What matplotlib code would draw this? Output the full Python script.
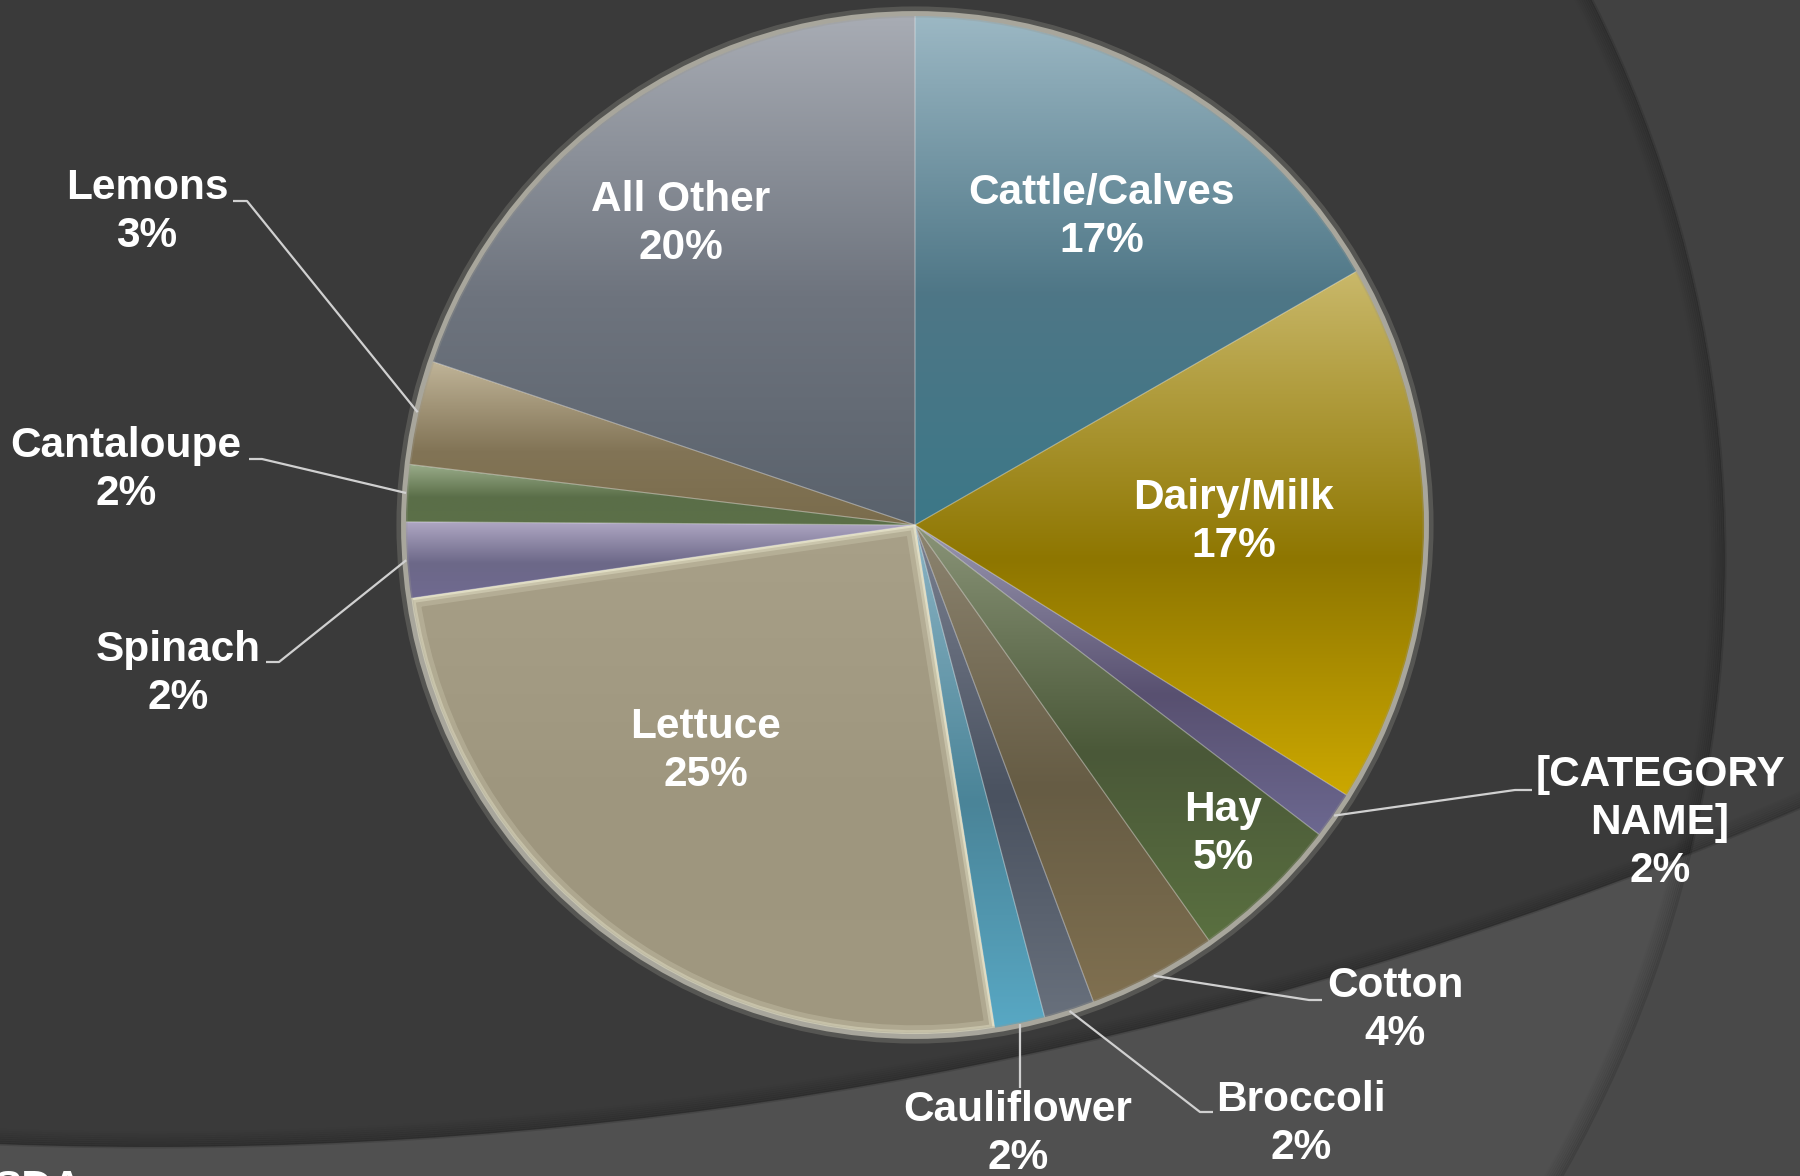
import numpy as np
import matplotlib.pyplot as plt
from matplotlib.colors import LinearSegmentedColormap
from matplotlib.patches import Circle, Wedge

W, H = 1800, 1176

# farm receipts share by commodity (percent), clockwise from 12 o'clock
categories = ["Cattle/Calves", "Dairy/Milk", "[CATEGORY NAME]", "Hay", "Cotton",
              "Broccoli", "Cauliflower", "Lettuce", "Spinach", "Cantaloupe",
              "Lemons", "All Other"]
shares = [16.7, 17.2, 1.5, 4.8, 4.1, 1.6, 1.6, 25.2, 2.4, 1.8, 3.3, 19.8]
label_names = ["Cattle/Calves", "Dairy/Milk", "[CATEGORY\nNAME]", "Hay", "Cotton",
               "Broccoli", "Cauliflower", "Lettuce", "Spinach", "Cantaloupe",
               "Lemons", "All Other"]

# vertical gradient per slice: top, middle, bottom
grad_top = ["#9cb8c4", "#c9b86a", "#9a98b0", "#8a9478", "#8c8470", "#7a8090",
            "#8cb4c4", "#a8a088", "#b0a8c4", "#9aac8a", "#c0b498", "#a8acb4"]
grad_mid = ["#4e7686", "#8e7600", "#585070", "#4a5838", "#665c44", "#4a5260",
            "#4a8498", "#9e967e", "#6c6888", "#5a6e48", "#827456", "#6e747e"]
grad_bot = ["#3c7888", "#cca800", "#6c6890", "#5a7040", "#807050", "#68707c",
            "#58a8c4", "#a09880", "#706a90", "#5c7048", "#7a6c4c", "#5a626c"]

outside = {"[CATEGORY NAME]", "Cotton", "Broccoli", "Cauliflower",
           "Spinach", "Cantaloupe", "Lemons"}

# label block centres, pixel coords measured from the top-left
label_xy = {"All Other": (681, 224), "Cattle/Calves": (1102, 217),
            "Dairy/Milk": (1234, 522), "Hay": (1223, 834), "Lettuce": (706, 751),
            "[CATEGORY NAME]": (1660, 823), "Cotton": (1395, 1010),
            "Broccoli": (1301, 1124), "Cauliflower": (1018, 1134),
            "Spinach": (178, 674), "Cantaloupe": (126, 470), "Lemons": (147, 212)}
# leader line bends for the outside labels
leader_pts = {"Lemons": [(247, 201), (233, 201)],
              "Cantaloupe": [(262, 459), (249, 459)],
              "Spinach": [(279, 662), (266, 662)],
              "[CATEGORY NAME]": [(1515, 790), (1532, 790)],
              "Cotton": [(1309, 1000), (1322, 1000)],
              "Broccoli": [(1200, 1112), (1213, 1112)],
              "Cauliflower": [(1020, 1088)]}

CX, CY, R = 915, H - 525, 510
FONT = "Liberation Sans"
FS = 30.5


def flip(p):
    return p[0], H - p[1]


fig = plt.figure(figsize=(W / 100, H / 100), dpi=100)
ax = fig.add_axes([0, 0, 1, 1])
ax.set_facecolor("#494949")

# background: two large arcs
low_arc = Circle((153, H + 3025), 4172, fc="#414141", ec="none", zorder=0)
ax.add_patch(low_arc)
rc = (480, H - 560)
ax.add_patch(Circle(rc, 1245, fc="#505050", ec="none", zorder=0.1))
main_bg = Circle(rc, 1245, fc="#3a3a3a", ec="none", zorder=0.2)
ax.add_patch(main_bg)
main_bg.set_clip_path(low_arc)
for k, a in enumerate(np.linspace(0.12, 0.0, 9)):
    ax.add_patch(Circle(rc, 1245 - 2 * k, fill=False, ec="black", lw=2.2,
                        alpha=a, zorder=0.3))
    ax.add_patch(Circle((153, H + 3025), 4172 - 2 * k, fill=False, ec="black",
                        lw=2.2, alpha=a, zorder=0.3))

wedges, _ = ax.pie(shares, radius=R, center=(CX, CY), startangle=90,
                   counterclock=False, frame=True,
                   wedgeprops=dict(linewidth=0))

grad = np.linspace(0, 1, 256).reshape(-1, 1)
for i, w in enumerate(wedges):
    w.set_facecolor(grad_mid[i])
    ext = w.get_path().get_extents()
    cmap = LinearSegmentedColormap.from_list(
        f"g{i}", [(0, grad_top[i]), (0.55, grad_mid[i]), (1, grad_bot[i])])
    im = ax.imshow(grad, cmap=cmap, extent=(ext.x0, ext.x1, ext.y0, ext.y1),
                   origin="upper", aspect="auto", interpolation="bilinear",
                   zorder=3)
    im.set_clip_path(w)
    ax.add_patch(Wedge(w.center, w.r, w.theta1, w.theta2, fill=False,
                       ec=(1, 1, 1, 0.22), lw=0.8, zorder=3.5))

# bevel highlight on the lettuce slice
lettuce = wedges[categories.index("Lettuce")]
for lw, a in [(14, 0.2), (7, 0.35), (3, 0.55)]:
    bev = Wedge(lettuce.center, lettuce.r, lettuce.theta1, lettuce.theta2,
                fill=False, ec="#f2f0d6", lw=lw, alpha=a, zorder=3.6)
    ax.add_patch(bev)
    bev.set_clip_path(lettuce)

# soft rim around the pie
ax.add_patch(Circle((CX, CY), R + 3, fill=False, ec="#9a988e", lw=8,
                    alpha=0.3, zorder=4))
ax.add_patch(Circle((CX, CY), R + 1.5, fill=False, ec="#a8a69c", lw=3.5,
                    zorder=4.1))

# labels and leader lines
for i, w in enumerate(wedges):
    name = categories[i]
    text = f"{label_names[i]}\n{round(shares[i]):.0f}%"
    x, y = flip(label_xy[name])
    ax.text(x, y, text, ha="center", va="center", color="white",
            fontsize=FS, fontweight="bold", family=FONT, linespacing=1.25,
            zorder=6)
    if name in outside:
        th = np.radians((w.theta1 + w.theta2) / 2)
        pts = [(CX + R * np.cos(th), CY + R * np.sin(th))]
        pts += [flip(p) for p in leader_pts[name]]
        xs, ys = zip(*pts)
        ax.plot(xs, ys, color="#d0d0d0", lw=1.6, zorder=5,
                solid_capstyle="butt")

# source note cut off by the bottom edge
ax.text(-6, -24, "SDA", ha="left", va="baseline", color="white",
        fontsize=FS, fontweight="bold", family=FONT, zorder=6)

ax.set_xlim(0, W)
ax.set_ylim(0, H)
ax.set_aspect("auto")
ax.axis("off")
fig.savefig("out.png", dpi=100, facecolor="#494949")
